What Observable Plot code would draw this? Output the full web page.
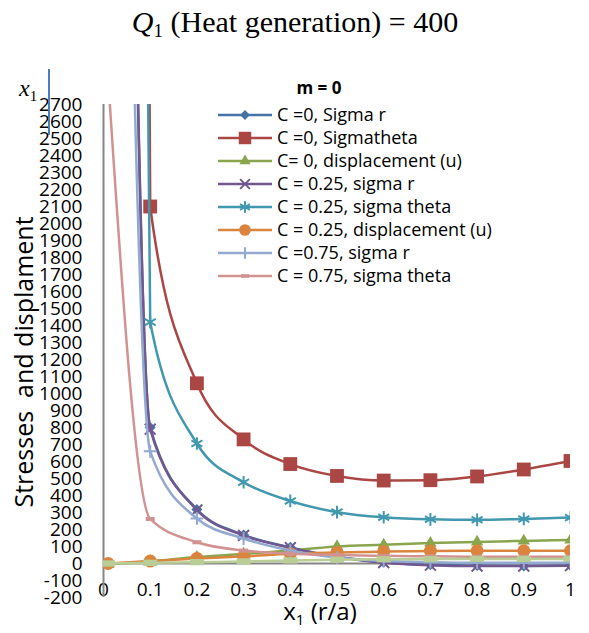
<!DOCTYPE html>
<html><head><meta charset="utf-8">
<script src="https://cdn.jsdelivr.net/npm/d3@7"></script>
<script src="https://cdn.jsdelivr.net/npm/@observablehq/plot@0.6"></script>
<style>
body{margin:0;background:#fff;}
#wrap{position:relative;width:589px;height:633px;overflow:hidden;background:#fff;}
#wrap > svg{position:absolute;left:0;top:0;}
</style></head><body><div id="wrap"></div>
<script>
// ---- data ----
const xValues = [0.01, 0.1, 0.2, 0.3, 0.4, 0.5, 0.6, 0.7, 0.8, 0.9, 1.0];
const c0SigmaR      = [16000, 800, 318, 168, 95, 40, 8, -8, -12, -14, -12];
const c0SigmaTheta  = [45000, 2100, 1060, 730, 585, 515, 488, 490, 512, 553, 603];
const c0Disp        = [-5, 12, 38, 56, 76, 100, 110, 120, 127, 133, 138];
const c25SigmaR     = [16500, 790, 315, 165, 93, 38, 5, -10, -15, -15, -13];
const c25SigmaTheta = [28000, 1420, 706, 478, 368, 302, 272, 260, 257, 262, 270];
const c25Disp       = [0, 14, 30, 42, 58, 65, 70, 73, 75, 75, 75];
const c75SigmaR     = [11500, 660, 265, 147, 76, 35, 15, 8, 5, 5, 5];
const c75SigmaTheta = [2850, 262, 125, 76, 58, 50, 45, 42, 40, 40, 40];
const c75Disp       = [0, 4, 8, 12, 18, 22, 25, 26, 27, 27, 27];

const seriesNames = ["C =0, Sigma r", "C =0, Sigmatheta", "C= 0, displacement (u)",
  "C = 0.25, sigma r", "C = 0.25, sigma theta", "C = 0.25, displacement (u)",
  "C =0.75, sigma r", "C = 0.75, sigma theta"];
const xTickValues = [0, 0.1, 0.2, 0.3, 0.4, 0.5, 0.6, 0.7, 0.8, 0.9, 1];
const xTickLabels = ["0", "0.1", "0.2", "0.3", "0.4", "0.5", "0.6", "0.7", "0.8", "0.9", "1"];
const yTickValues = d3.range(-200, 2701, 100);
const titleMain = " (Heat generation) = 400";
const legendTitle = "m = 0";
const yTitle = "Stresses  and displament";

// ---- custom marker shapes ----
const diamondSym = {draw(ctx, size){const r=Math.sqrt(size/Math.PI);ctx.moveTo(0,-r);ctx.lineTo(r,0);ctx.lineTo(0,r);ctx.lineTo(-r,0);ctx.closePath();}};
const barSym = (a) => ({draw(ctx, size){const r=Math.sqrt(size/Math.PI);const h=r*a;ctx.rect(-r,-h,2*r,2*h);}});

const series = [
  {values: c0SigmaR,      color: "#4572A7", symbol: diamondSym,     r: 5.5, stroked: false},
  {values: c0SigmaTheta,  color: "#AA4643", symbol: "square",       r: 7.8, stroked: false},
  {values: c0Disp,        color: "#89A54E", symbol: "triangle",     r: 4.6, stroked: false},
  {values: c25SigmaR,     color: "#71588F", symbol: "times",        r: 5.0, stroked: true},
  {values: c25SigmaTheta, color: "#4198AF", symbol: "asterisk",     r: 6.0, stroked: true},
  {values: c25Disp,       color: "#DB843D", symbol: "circle",       r: 6.5, stroked: false},
  {values: c75SigmaR,     color: "#93A9CF", symbol: "plus",         r: 4.2, stroked: true},
  {values: c75SigmaTheta, color: "#D19392", symbol: barSym(0.45),   r: 4.5, stroked: false},
  {values: c75Disp,       color: "#B9CD96", symbol: barSym(0.45),   r: 7.0, stroked: false}
];

const marks = [
  Plot.axisY({ticks: yTickValues, label: null, tickSize: 0, tickPadding: 21, fontSize: 19, tickFormat: d => String(d)}),
  Plot.axisX({ticks: xTickValues, label: null, tickSize: 0, tickPadding: 0, dy: -15, fontSize: 19, tickFormat: (d, i) => xTickLabels[i]}),
  Plot.ruleX([0], {stroke: "#868686", strokeWidth: 2}),
  Plot.ruleY([0], {stroke: "#868686", strokeWidth: 2})
];
for (const s of series) {
  const rows = xValues.map((x, i) => ({x, y: s.values[i]}));
  marks.push(Plot.line(rows, {x: "x", y: "y", stroke: s.color, strokeWidth: 2.5, curve: "monotone-x", clip: true}));
  marks.push(Plot.dot(rows, s.stroked
    ? {x: "x", y: "y", symbol: () => s.symbol, r: s.r, stroke: s.color, strokeWidth: 2, fill: "none", clip: true}
    : {x: "x", y: "y", symbol: () => s.symbol, r: s.r, fill: s.color, stroke: "none", clip: true}));
}

const chart = Plot.plot({
  width: 589, height: 633,
  marginTop: 104, marginBottom: 36, marginLeft: 103, marginRight: 19,
  x: {domain: [0, 1]},
  y: {domain: [-200, 2700]},
  symbol: {type: "identity"},
  style: {fontFamily: "'Open Sans', sans-serif", color: "#000", background: "transparent", overflow: "visible"},
  marks
});
document.getElementById("wrap").appendChild(chart);

// ---- overlay: titles and legend ----
const ov = d3.select("#wrap").append("svg").attr("width", 589).attr("height", 633).style("pointer-events", "none");
// main title
const tt = ov.append("text").attr("x", 295).attr("y", 32).attr("text-anchor", "middle")
  .style("font-family", "'Liberation Serif', 'Times New Roman', serif").style("font-size", "30px").attr("fill", "#000");
tt.append("tspan").style("font-style", "italic").text("Q");
tt.append("tspan").attr("dy", 5).style("font-size", "19px").text("1");
tt.append("tspan").attr("dy", -5).text(titleMain);
// x1 mark top-left
const xt = ov.append("text").attr("x", 19).attr("y", 96)
  .style("font-family", "'Liberation Serif', serif").style("font-size", "24px").attr("fill", "#000");
xt.append("tspan").style("font-style", "italic").text("x");
xt.append("tspan").attr("dy", 5).style("font-size", "15px").text("1");
ov.append("line").attr("x1", 49).attr("x2", 49).attr("y1", 69).attr("y2", 135).attr("stroke", "#4A7EBB").attr("stroke-width", 2);
// y title
ov.append("text").attr("transform", "translate(33,362) rotate(-90)").attr("text-anchor", "middle")
  .style("font-family", "'Open Sans', sans-serif").style("font-size", "25px").style("white-space", "pre").attr("fill", "#000")
  .attr("xml:space", "preserve").text(yTitle);
// x title
const xl = ov.append("text").attr("x", 320).attr("y", 620).attr("text-anchor", "middle")
  .style("font-family", "'Open Sans', sans-serif").style("font-size", "24px").attr("fill", "#000");
xl.append("tspan").text("x");
xl.append("tspan").attr("dy", 5).style("font-size", "15px").text("1");
xl.append("tspan").attr("dy", -5).text(" (r/a)");
// legend
ov.append("text").attr("x", 319).attr("y", 94).attr("text-anchor", "middle")
  .style("font-family", "'Open Sans', sans-serif").style("font-size", "17px").style("font-weight", "bold").text(legendTitle);
const symMap = {square: d3.symbolSquare, triangle: d3.symbolTriangle, times: d3.symbolTimes, asterisk: d3.symbolAsterisk, circle: d3.symbolCircle, plus: d3.symbolPlus};
seriesNames.forEach((name, i) => {
  const s = series[i];
  const y = 115 + 23 * i;
  const g = ov.append("g");
  g.append("line").attr("x1", 218).attr("x2", 272).attr("y1", y).attr("y2", y).attr("stroke", s.color).attr("stroke-width", 2.5);
  const sym = typeof s.symbol === "string" ? symMap[s.symbol] : s.symbol;
  const rr = s.r * 0.9;
  const p = g.append("path").attr("d", d3.symbol(sym, rr * rr * Math.PI)()).attr("transform", `translate(245,${y})`);
  if (s.stroked) p.attr("fill", "none").attr("stroke", s.color).attr("stroke-width", 2);
  else p.attr("fill", s.color);
  g.append("text").attr("x", 277).attr("y", y).attr("dy", "0.35em")
    .style("font-family", "'Open Sans', sans-serif").style("font-size", "18px").attr("fill", "#000").text(name);
});
</script>
</body></html>
